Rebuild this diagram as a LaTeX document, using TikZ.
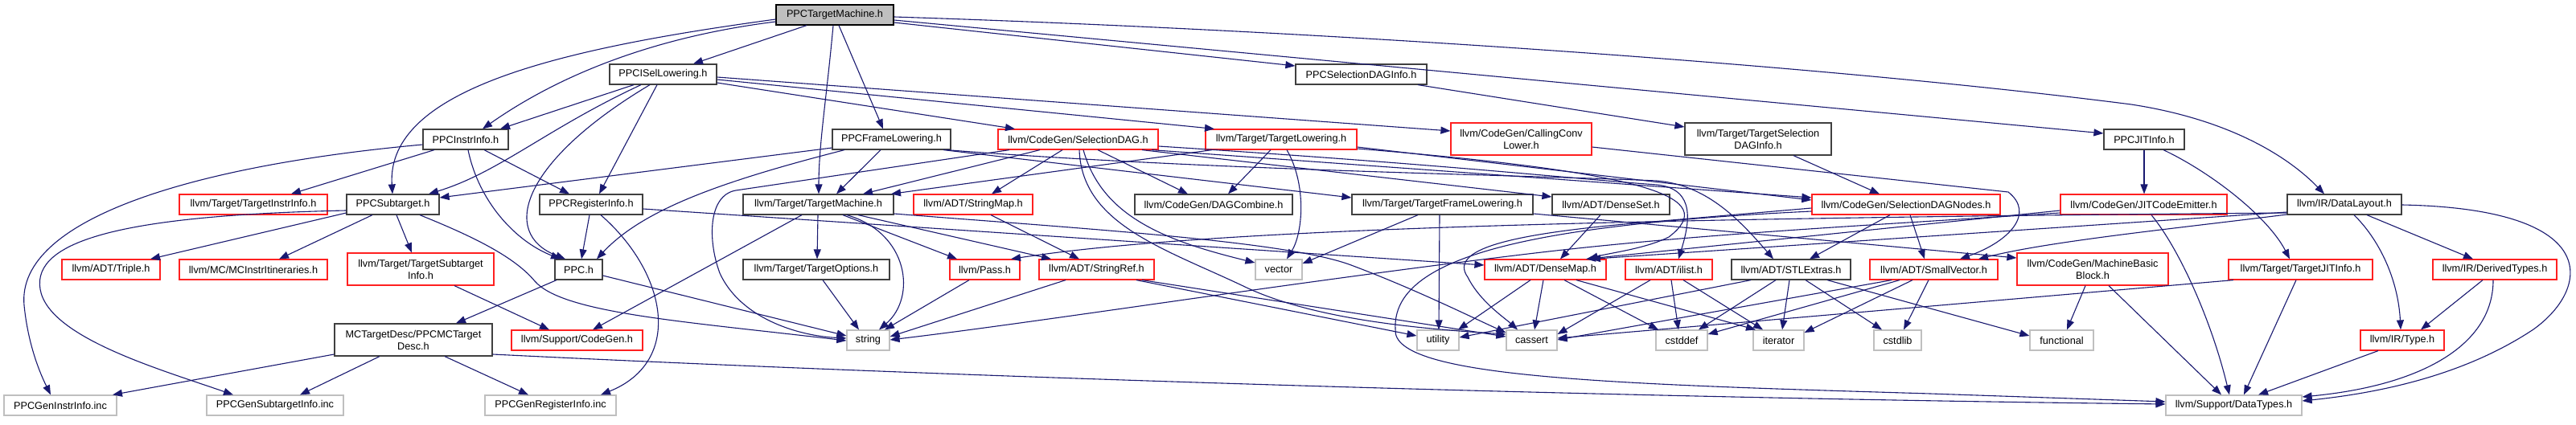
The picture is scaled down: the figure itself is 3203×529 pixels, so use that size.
\documentclass[tikz,border=0pt]{standalone}
\usepackage{fontspec}
\setmainfont{Liberation Sans}
\usetikzlibrary{arrows.meta}
\definecolor{edgec}{HTML}{191970}
\definecolor{nodeblk}{HTML}{404040}
\definecolor{nodered}{HTML}{FF2020}
\definecolor{nodegry}{HTML}{BFBFBF}
\definecolor{rootfill}{HTML}{BFBFBF}
\newcommand\labfont{\fontsize{12.7}{15}\selectfont}
\tikzset{
 box/.style={rectangle, draw, inner sep=0pt, minimum height=25pt, align=center, font=\labfont, line width=1.2pt},
 bk/.style={box, draw=nodeblk},
 rd/.style={box, draw=nodered},
 gy/.style={box, draw=nodegry},
 rt/.style={box, draw=black, fill=rootfill},
 tall/.style={minimum height=40pt},
 e/.style={draw=edgec, line width=1.1pt, -{Triangle[length=12pt,width=9pt]}},
}
\begin{document}
\begin{tikzpicture}[x=1pt,y=-1pt]
\useasboundingbox (0,0) rectangle (3203,529);
\fill[white] (0,0) rectangle (3203,529);
% nodes
\node[rt, minimum width=146pt] (ptm) at (1038,18.5) {PPCTargetMachine.h};
\node[bk, minimum width=133pt] (isel) at (824.5,92.5) {PPCISelLowering.h};
\node[bk, minimum width=163pt] (sdi) at (1692.5,92.5) {PPCSelectionDAGInfo.h};
\node[bk, minimum width=106pt] (instr) at (579,173.5) {PPCInstrInfo.h};
\node[bk, minimum width=147pt] (frame) at (1108.5,173.5) {PPCFrameLowering.h};
\node[rd, minimum width=199pt] (sdag) at (1340.5,173.5) {llvm/CodeGen/SelectionDAG.h};
\node[rd, minimum width=188pt] (tlow) at (1593,173.5) {llvm/Target/TargetLowering.h};
\node[rd, tall, minimum width=175pt] (ccl) at (1891.5,173) {llvm/CodeGen/CallingConv\\Lower.h};
\node[bk, tall, minimum width=182pt] (tsdi) at (2186,173) {llvm/Target/TargetSelection\\DAGInfo.h};
\node[bk, minimum width=100pt] (jit) at (2666,173.5) {PPCJITInfo.h};
\node[rd, minimum width=184pt] (tii) at (315,254.5) {llvm/Target/TargetInstrInfo.h};
\node[bk, minimum width=115pt] (subt) at (488.5,254.5) {PPCSubtarget.h};
\node[bk, minimum width=128pt] (reginfo) at (735,254.5) {PPCRegisterInfo.h};
\node[bk, minimum width=187pt] (tm) at (1017.5,254.5) {llvm/Target/TargetMachine.h};
\node[rd, minimum width=148pt] (smap) at (1210,254.5) {llvm/ADT/StringMap.h};
\node[bk, minimum width=196pt] (dagc) at (1509,254.5) {llvm/CodeGen/DAGCombine.h};
\node[bk, minimum width=225pt] (tfl) at (1793.5,254.5) {llvm/Target/TargetFrameLowering.h};
\node[bk, minimum width=146pt] (dset) at (2003,254.5) {llvm/ADT/DenseSet.h};
\node[rd, minimum width=234pt] (sdn) at (2370,254.5) {llvm/CodeGen/SelectionDAGNodes.h};
\node[rd, minimum width=207pt] (jce) at (2665.5,254.5) {llvm/CodeGen/JITCodeEmitter.h};
\node[bk, minimum width=142pt] (dl) at (2915,254.5) {llvm/IR/DataLayout.h};
\node[rd, minimum width=122pt] (triple) at (138,335.5) {llvm/ADT/Triple.h};
\node[rd, minimum width=184pt] (mcii) at (315,335.5) {llvm/MC/MCInstrItineraries.h};
\node[rd, tall, minimum width=182pt] (tsi) at (523,335) {llvm/Target/TargetSubtarget\\Info.h};
\node[bk, minimum width=59pt] (ppc) at (719.5,335.5) {PPC.h};
\node[bk, minimum width=182pt] (topts) at (1015,335.5) {llvm/Target/TargetOptions.h};
\node[rd, minimum width=87pt] (pass) at (1224.5,335.5) {llvm/Pass.h};
\node[rd, minimum width=143pt] (sref) at (1363.5,335.5) {llvm/ADT/StringRef.h};
\node[gy, minimum width=58pt] (vector) at (1590,335.5) {vector};
\node[rd, minimum width=151pt] (dmap) at (1921.5,335.5) {llvm/ADT/DenseMap.h};
\node[rd, minimum width=108pt] (ilist) at (2075,335.5) {llvm/ADT/ilist.h};
\node[bk, minimum width=148pt] (stl) at (2227,335.5) {llvm/ADT/STLExtras.h};
\node[rd, minimum width=159pt] (svec) at (2404.5,335.5) {llvm/ADT/SmallVector.h};
\node[rd, tall, minimum width=188pt] (mbb) at (2602,335) {llvm/CodeGen/MachineBasic\\Block.h};
\node[rd, minimum width=179pt] (tjit) at (2860.5,335.5) {llvm/Target/TargetJITInfo.h};
\node[rd, minimum width=154pt] (derived) at (3102,335.5) {llvm/IR/DerivedTypes.h};
\node[bk, tall, minimum width=196pt] (mcdesc) at (514,423) {MCTargetDesc/PPCMCTarget\\Desc.h};
\node[rd, minimum width=163pt] (codegen) at (717.5,423.5) {llvm/Support/CodeGen.h};
\node[gy, minimum width=53pt] (string) at (1079.5,423.5) {string};
\node[gy, minimum width=52pt] (utility) at (1788,423.5) {utility};
\node[gy, minimum width=63pt] (cassert) at (1904.5,423.5) {cassert};
\node[gy, minimum width=64pt] (cstddef) at (2091,423.5) {cstddef};
\node[gy, minimum width=63pt] (iterator) at (2211.5,423.5) {iterator};
\node[gy, minimum width=59pt] (cstdlib) at (2359.5,423.5) {cstdlib};
\node[gy, minimum width=79pt] (functional) at (2563.5,423.5) {functional};
\node[rd, minimum width=104pt] (type) at (2987,423.5) {llvm/IR/Type.h};
\node[gy, minimum width=140pt] (geninstr) at (75,504.5) {PPCGenInstrInfo.inc};
\node[gy, minimum width=170pt] (gensubt) at (342,504.5) {PPCGenSubtargetInfo.inc};
\node[gy, minimum width=163pt] (genreg) at (684.5,504.5) {PPCGenRegisterInfo.inc};
\node[gy, minimum width=169pt] (dtypes) at (2777.5,504.5) {llvm/Support/DataTypes.h};
% edges: PPCTargetMachine.h
\draw[e] (ptm.south -| 1003,0) -- (isel.north -| 862,0);
\draw[e] (ptm.west |- 0,27) .. controls (820,45) and (700,90) .. (instr.north -| 600,0);
\draw[e] (ptm.west |- 0,24) .. controls (700,60) and (480,110) .. (subt.north -| 488,0);
\draw[e] (ptm.south -| 1036,0) .. controls (1028,120) and (1018,180) .. (tm.north -| 1018,0);
\draw[e] (ptm.south -| 1043,0) -- (frame.north -| 1098,0);
\draw[e] (ptm.east |- 0,28) -- (sdi.west |- 0,82);
\draw[e] (ptm.east |- 0,25) -- (jit.west |- 0,166);
\draw[e] (ptm.east |- 0,21) .. controls (1700,40) and (2300,85) .. (2650,130) .. controls (2780,150) and (2850,200) .. (dl.north -| 2890,0);
% PPCISelLowering.h
\draw[e] (isel.south -| 788,0) -- (instr.north -| 622,0);
\draw[e] (isel.south -| 797,0) .. controls (680,160) and (620,215) .. (subt.north -| 533,0);
\draw[e] (isel.south -| 808,0) .. controls (650,200) and (620,290) .. (ppc.north -| 703,0);
\draw[e] (isel.south -| 817,0) -- (reginfo.north -| 745,0);
\draw[e] (isel.east |- 0,103) -- (sdag.north -| 1262,0);
\draw[e] (isel.east |- 0,99) -- (tlow.north -| 1510,0);
\draw[e] (isel.east |- 0,96) -- (ccl.west |- 0,163);
% PPCSelectionDAGInfo.h
\draw[e] (sdi.south -| 1763,0) -- (tsdi.west |- 0,158);
% PPCInstrInfo.h
\draw[e] (instr.south -| 582,0) .. controls (595,250) and (640,300) .. (ppc.north -| 697,0);
\draw[e] (instr.south -| 602,0) -- (reginfo.north -| 708,0);
\draw[e] (instr.south -| 540,0) -- (tii.north -| 362,0);
\draw[e] (instr.west |- 0,180) .. controls (250,205) and (20,270) .. (30,380) .. controls (35,430) and (50,465) .. (geninstr.north -| 63,0);
% PPCSubtarget.h
\draw[e] (subt.west |- 0,265) -- (triple.north -| 187,0);
\draw[e] (subt.south -| 463,0) -- (mcii.north -| 347,0);
\draw[e] (subt.south -| 493,0) -- (tsi.north -| 512,0);
\draw[e] (subt.south -| 522,0) .. controls (590,295) and (640,320) .. (665,350) .. controls (700,390) and (850,400) .. (string.west |- 0,424);
\draw[e] (subt.west |- 0,262) .. controls (150,268) and (40,300) .. (50,360) .. controls (60,420) and (200,460) .. (gensubt.north -| 290,0);
% PPCRegisterInfo.h
\draw[e] (reginfo.south -| 733,0) -- (ppc.north -| 723,0);
\draw[e] (reginfo.east |- 0,260) -- (dmap.west |- 0,330);
\draw[e] (reginfo.south -| 747,0) .. controls (830,340) and (850,450) .. (genreg.north -| 747,0);
% PPC.h
\draw[e] (ppc.south -| 692,0) -- (mcdesc.north -| 567,0);
\draw[e] (ppc.east |- 0,343) -- (string.west |- 0,418);
% TargetSubtargetInfo
\draw[e] (tsi.south -| 565,0) -- (codegen.north -| 683,0);
% PPCMCTargetDesc.h
\draw[e] (mcdesc.west |- 0,441) -- (geninstr.north -| 140,0);
\draw[e] (mcdesc.south -| 472,0) -- (gensubt.north -| 373,0);
\draw[e] (mcdesc.south -| 553,0) -- (genreg.north -| 657,0);
\draw[e] (mcdesc.east |- 0,441) .. controls (1200,470) and (2000,495) .. (dtypes.west |- 0,503);
% TargetMachine.h
\draw[e] (tm.south -| 1017,0) -- (topts.north -| 1016,0);
\draw[e] (tm.south -| 1053,0) .. controls (1130,290) and (1140,370) .. (string.north -| 1093,0);
\draw[e] (tm.south -| 1048,0) -- (pass.north -| 1190,0);
\draw[e] (tm.south -| 1067,0) -- (sref.north -| 1307,0);
\draw[e] (tm.south -| 997,0) -- (codegen.north -| 737,0);
\draw[e] (tm.east |- 0,266) .. controls (1350,285) and (1600,300) .. (1680,330) .. controls (1760,360) and (1830,395) .. (cassert.west |- 0,414);
% TargetOptions, Pass, StringRef, StringMap
\draw[e] (topts.south -| 1023,0) -- (string.north -| 1068,0);
\draw[e] (pass.south -| 1205,0) -- (string.north -| 1100,0);
\draw[e] (sref.south -| 1325,0) -- (string.east |- 0,419);
\draw[e] (sref.south -| 1413,0) -- (utility.west |- 0,418);
\draw[e] (sref.south -| 1420,0) -- (cassert.west |- 0,419);
\draw[e] (smap.south -| 1232,0) -- (sref.north -| 1342,0);
% SelectionDAG.h
\draw[e] (sdag.south -| 1321,0) -- (smap.north -| 1233,0);
\draw[e] (sdag.south -| 1365,0) -- (dagc.north -| 1477,0);
\draw[e] (sdag.south -| 1293,0) -- (tm.north -| 1073,0);
\draw[e] (sdag.south -| 1255,0) -- (915,237) .. controls (880,243) and (880,300) .. (895,340) .. controls (920,395) and (990,418) .. (string.west |- 0,421);
\draw[e] (sdag.south -| 1347,0) .. controls (1370,270) and (1450,300) .. (vector.west |- 0,327);
\draw[e] (sdag.south -| 1342,0) .. controls (1345,280) and (1450,310) .. (1550,358) .. controls (1640,400) and (1780,410) .. (cassert.west |- 0,416);
\draw[e] (sdag.south -| 1420,0) -- (dset.west |- 0,245);
\draw[e] (sdag.south -| 1432,0) -- (sdn.west |- 0,246);
\draw[e] (sdag.east |- 0,182) .. controls (1800,205) and (1950,222) .. (2060,230) .. controls (2110,235) and (2100,280) .. (ilist.north -| 2087,0);
% TargetLowering.h
\draw[e] (tlow.south -| 1580,0) -- (dagc.north -| 1527,0);
\draw[e] (tlow.south -| 1600,0) .. controls (1625,230) and (1620,290) .. (vector.north -| 1600,0);
\draw[e] (tlow.south -| 1507,0) -- (tm.north -| 1108,0);
\draw[e] (tlow.east |- 0,183) -- (sdn.west |- 0,249);
\draw[e] (tlow.east |- 0,185) .. controls (2050,215) and (2140,245) .. (2075,295) .. controls (2045,310) and (2000,315) .. (dmap.north -| 1975,0);
% CallingConvLower.h
\draw[e] (ccl.east |- 0,183) -- (2497,239) .. controls (2530,265) and (2500,300) .. (svec.north -| 2437,0);
% TargetSelectionDAGInfo.h
\draw[e] (tsdi.south -| 2230,0) -- (sdn.north -| 2337,0);
% PPCJITInfo.h
\draw[e] (jit.south -| 2666,0) -- (jce.north -| 2666,0);
\draw[e] (jit.south -| 2690,0) .. controls (2750,215) and (2820,270) .. (tjit.north -| 2847,0);
% PPCFrameLowering.h
\draw[e] (frame.south -| 1050,0) .. controls (900,225) and (800,260) .. (ppc.north -| 742,0);
\draw[e] (frame.west |- 0,184) -- (subt.east |- 0,246);
\draw[e] (frame.south -| 1095,0) -- (tm.north -| 1040,0);
\draw[e] (frame.south -| 1173,0) -- (tfl.west |- 0,246);
\draw[e] (frame.south -| 1177,0) .. controls (1500,212) and (1900,218) .. (2060,225) .. controls (2120,230) and (2160,270) .. (stl.north -| 2205,0);
% TargetFrameLowering.h
\draw[e] (tfl.south -| 1763,0) -- (vector.east |- 0,328);
\draw[e] (tfl.south -| 1790,0) -- (utility.north -| 1789,0);
\draw[e] (tfl.east |- 0,266) -- (mbb.west |- 0,321);
% DenseSet.h
\draw[e] (dset.south -| 1990,0) -- (dmap.north -| 1940,0);
% SelectionDAGNodes.h
\draw[e] (sdn.south -| 2350,0) -- (stl.north -| 2250,0);
\draw[e] (sdn.south -| 2375,0) -- (svec.north -| 2393,0);
\draw[e] (sdn.west |- 0,259) -- (2020,279) .. controls (1880,292) and (1800,310) .. (1825,345) .. controls (1840,375) and (1870,395) .. (cassert.north -| 1887,0);
\draw[e] (sdn.west |- 0,263) .. controls (1900,280) and (1730,320) .. (1735,410) .. controls (1730,470) and (2000,478) .. (2400,490) -- (dtypes.west |- 0,500);
% JITCodeEmitter.h
\draw[e] (jce.west |- 0,262) -- (dmap.north -| 1972,0);
\draw[e] (jce.west |- 0,265) .. controls (2300,282) and (2100,292) .. (1900,316) .. controls (1600,352) and (1300,400) .. (string.east |- 0,423);
\draw[e] (jce.south -| 2675,0) .. controls (2710,310) and (2750,400) .. (dtypes.north -| 2772,0);
% DataLayout.h
\draw[e] (dl.west |- 0,264) -- (dmap.north -| 1978,0);
\draw[e] (dl.west |- 0,265) .. controls (2000,272) and (1500,285) .. (pass.north -| 1257,0);
\draw[e] (dl.west |- 0,267) .. controls (2700,285) and (2550,300) .. (svec.north -| 2460,0);
\draw[e] (dl.south -| 2943,0) -- (derived.north -| 3075,0);
\draw[e] (dl.south -| 2927,0) .. controls (2960,300) and (2982,350) .. (type.north -| 2985,0);
\draw[e] (dl.east |- 0,255) .. controls (3240,260) and (3220,360) .. (3150,410) .. controls (3060,470) and (2950,490) .. (dtypes.east |- 0,499);
% DerivedTypes.h, Type.h
\draw[e] (derived.south -| 3087,0) -- (type.north -| 3010,0);
\draw[e] (derived.south -| 3100,0) .. controls (3100,430) and (3010,480) .. (dtypes.east |- 0,494);
\draw[e] (type.south -| 2957,0) -- (dtypes.north -| 2808,0);
% TargetJITInfo.h
\draw[e] (tjit.south -| 2855,0) -- (dtypes.north -| 2790,0);
\draw[e] (tjit.south -| 2777,0) -- (cassert.east |- 0,421);
% MachineBasicBlock.h
\draw[e] (mbb.south -| 2593,0) -- (functional.north -| 2570,0);
\draw[e] (mbb.south -| 2622,0) -- (dtypes.north -| 2762,0);
% DenseMap.h
\draw[e] (dmap.south -| 1903,0) -- (utility.north -| 1813,0);
\draw[e] (dmap.south -| 1919,0) -- (cassert.north -| 1908,0);
\draw[e] (dmap.south -| 1945,0) -- (cstddef.north -| 2062,0);
\draw[e] (dmap.south -| 1960,0) -- (iterator.north -| 2183,0);
% ilist.h
\draw[e] (ilist.south -| 2052,0) -- (cassert.east |- 0,416);
\draw[e] (ilist.south -| 2078,0) -- (cstddef.north -| 2087,0);
\draw[e] (ilist.south -| 2093,0) -- (iterator.north -| 2192,0);
% STLExtras.h
\draw[e] (stl.south -| 2208,0) -- (cstddef.north -| 2112,0);
\draw[e] (stl.south -| 2225,0) -- (iterator.north -| 2216,0);
\draw[e] (stl.south -| 2245,0) -- (cstdlib.north -| 2340,0);
\draw[e] (stl.south -| 2177,0) -- (utility.east |- 0,420);
\draw[e] (stl.south -| 2272,0) -- (functional.west |- 0,418);
% SmallVector.h
\draw[e] (svec.south -| 2352,0) -- (cassert.east |- 0,423);
\draw[e] (svec.south -| 2362,0) -- (cstddef.east |- 0,416);
\draw[e] (svec.south -| 2378,0) -- (iterator.east |- 0,414);
\draw[e] (svec.south -| 2398,0) -- (cstdlib.north -| 2367,0);
\end{tikzpicture}
\end{document}
